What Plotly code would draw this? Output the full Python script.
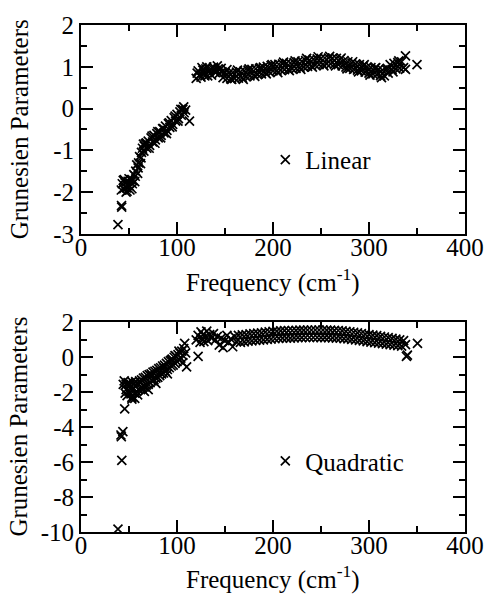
import plotly.graph_objects as go
from plotly.subplots import make_subplots

# ---------------- data ----------------
# Linear fit Grunesien parameters
lin_freq = [
    38.5, 42.4, 42.2,
    42, 43, 44.5, 46, 47.5, 49, 50.5, 52, 53.5, 55, 56.5, 58, 59.5, 61, 62.5, 64, 65.5,
    67, 68.5, 70, 71.5, 73, 74.5, 76, 77.5, 79, 80.5, 82, 83.5, 85, 86.5, 88, 89.5,
    91, 92.5, 94, 95.5, 97, 98.5, 100, 101.5, 103, 104.5, 106, 107.5, 109, 113,
    45, 48, 51, 54, 57, 60, 63, 66,
    44, 47, 50, 53, 56, 59, 62, 65, 68, 71, 74, 77, 80, 83, 86, 89, 92, 95, 98, 101, 104, 107,
    120, 122, 124, 126, 128, 130, 132, 134, 136, 138, 140, 142, 144, 146, 148, 150,
    152, 154, 156, 158, 160, 162, 164, 166, 168, 170, 172, 174, 176, 178, 180, 182,
    184, 186, 188, 190, 192, 194, 196, 198, 200, 202, 204, 206, 208, 210, 212, 214,
    216, 218, 220, 222, 224, 226, 228, 230, 232, 234, 236, 238, 240, 242, 244, 246,
    248, 250, 252, 254, 256, 258, 260, 262, 264, 266, 268, 270, 272, 274, 276, 278,
    280, 282, 284, 286, 288, 290, 292, 294, 296, 298, 300, 302, 304, 306, 308, 310,
    312, 314, 316, 318, 320, 322, 324, 326, 328, 330, 332, 334, 336, 338, 338, 350,
    121, 125, 127, 129, 131, 135, 139, 143, 147, 152,
    157, 163, 169, 175, 181, 187, 193, 199, 205, 211, 217, 223, 229, 235, 241, 247,
    253, 259, 265, 271, 277, 283, 289, 295, 301, 307, 313, 319, 325, 331,
]
lin_gamma = [
    -2.78, -2.36, -2.32,
    -1.95, -1.80, -1.92, -1.78, -1.90, -1.74, -1.86, -1.70, -1.80, -1.58, -1.62, -1.35, -1.42, -1.15, -1.18, -0.95, -1.02,
    -0.84, -0.95, -0.78, -0.88, -0.70, -0.80, -0.64, -0.75, -0.60, -0.70, -0.55, -0.64, -0.48, -0.58, -0.42, -0.52,
    -0.36, -0.45, -0.29, -0.38, -0.22, -0.30, -0.14, -0.24, -0.08, -0.16, -0.02, -0.10, -0.04, -0.30,
    -1.70, -1.98, -1.95, -1.72, -1.50, -1.30, -1.05, -0.90,
    -1.72, -2.00, -1.68, -1.92, -1.75, -1.55, -1.32, -0.85, -0.82, -0.95, -0.66, -0.83, -0.55, -0.70, -0.48, -0.60, -0.34, -0.44, -0.18, -0.30, -0.02, 0.04,
    0.72, 0.90, 0.80, 0.98, 0.84, 0.95, 0.78, 0.90, 0.80, 0.99, 0.86, 1.02, 0.84, 0.96, 0.74, 0.86,
    0.72, 0.85, 0.71, 0.86, 0.72, 0.87, 0.73, 0.88, 0.74, 0.90, 0.76, 0.92, 0.78, 0.94, 0.80, 0.95,
    0.81, 0.96, 0.83, 0.99, 0.86, 1.01, 0.88, 1.03, 0.90, 1.05, 0.91, 1.06, 0.92, 1.07, 0.93, 1.08,
    0.94, 1.09, 0.95, 1.10, 0.96, 1.12, 0.98, 1.13, 0.99, 1.15, 1.01, 1.16, 1.02, 1.18, 1.04, 1.19,
    1.05, 1.20, 1.06, 1.21, 1.07, 1.21, 1.07, 1.21, 1.06, 1.20, 1.05, 1.18, 1.02, 1.15, 0.99, 1.12,
    0.96, 1.09, 0.94, 1.07, 0.92, 1.05, 0.90, 1.02, 0.87, 1.00, 0.85, 0.98, 0.83, 0.96, 0.81, 0.94,
    0.79, 0.92, 0.78, 0.94, 0.85, 1.05, 0.93, 1.08, 0.95, 1.10, 0.97, 1.12, 0.98, 1.26, 0.94, 1.05,
    0.85, 0.75, 0.92, 0.78, 1.00, 0.95, 0.92, 0.95, 0.88, 0.93,
    0.70, 0.92, 0.70, 0.95, 0.77, 0.98, 0.83, 1.05, 0.86, 1.11, 0.91, 1.14, 0.94, 1.20, 0.99, 1.24,
    1.02, 1.25, 1.02, 1.21, 0.95, 1.12, 0.88, 1.05, 0.80, 0.98, 0.74, 0.96, 0.88, 1.14,
]

# Quadratic fit Grunesien parameters
quad_freq = [
    38.5, 42.5, 43.6, 41.6, 42.0, 45.5, 53,
    45, 46, 47, 48, 49, 50, 51, 52, 53, 54, 55, 56, 57, 58, 59, 60, 61, 62, 63, 64,
    65, 66, 67, 68, 69, 70, 71, 72, 73, 74, 75, 76, 77, 78, 79, 80, 81, 82, 83, 84,
    85, 86, 87, 88, 89, 90, 91, 92, 93, 94, 95, 96, 97, 98, 99, 100, 101, 102, 103, 104,
    105, 106, 107, 108, 110, 122, 109,
    44, 47, 50, 53, 56, 59, 62, 66, 70, 74, 78, 82, 86, 90, 94, 98, 102, 106,
    120, 122, 124, 125, 126, 127, 128, 130, 131, 132, 134, 136, 138, 140, 142, 144,
    146, 148, 150, 152, 154, 156, 158, 160, 162,
    164, 166, 168, 170, 172, 174, 176, 178, 180, 182, 184, 186, 188, 190, 192, 194,
    196, 198, 200, 202, 204, 206, 208, 210, 212, 214, 216, 218, 220, 222, 224, 226,
    228, 230, 232, 234, 236, 238, 240, 242, 244, 246, 248, 250, 252, 254, 256, 258,
    260, 262, 264, 266, 268, 270, 272, 274, 276, 278, 280, 282, 284, 286, 288, 290,
    292, 294, 296, 298, 300, 302, 304, 306, 308, 310, 312, 314, 316, 318, 320, 322,
    324, 326, 328, 330, 332, 334, 336, 338, 339, 340, 350.5,
]
quad_gamma = [
    -9.83, -5.90, -4.25, -4.45, -4.55, -2.96, -2.40,
    -1.35, -2.05, -1.55, -2.20, -1.45, -1.95, -1.60, -2.10, -1.40, -1.85, -1.55, -2.05, -1.40, -1.95, -1.50, -1.85, -1.35, -1.80, -1.30, -1.75,
    -1.20, -1.70, -1.15, -1.60, -1.05, -1.55, -1.00, -1.45, -0.95, -1.35, -0.85, -1.30, -0.80, -1.20, -0.75, -1.15, -0.65, -1.05, -0.60, -0.95,
    -0.50, -0.90, -0.45, -0.80, -0.35, -0.70, -0.25, -0.60, -0.20, -0.50, -0.10, -0.45, 0.00, -0.35, 0.05, -0.25, 0.15, -0.15, 0.25, -0.05,
    0.35, 0.10, 0.50, 0.80, -0.55, 0.05, 0.25,
    -1.55, -1.85, -1.50, -2.30, -2.35, -2.15, -1.45, -1.95, -1.85, -1.05, -1.50, -0.85, -0.60, -0.95, -0.15, 0.10, 0.35, -0.30,
    1.00, 1.25, 0.85, 1.45, 1.10, 1.30, 0.90, 1.20, 1.50, 0.95, 1.30, 1.10, 1.35, 1.00, 1.20, 0.70,
    1.10, 0.55, 0.95, 1.25, 0.85, 1.05, 0.60, 1.20, 0.90,
    1.25, 0.85, 1.28, 0.88, 1.30, 0.92, 1.34, 0.94, 1.36, 0.96, 1.38, 0.98, 1.40, 1.00, 1.44, 1.02,
    1.46, 1.04, 1.48, 1.06, 1.50, 1.08, 1.51, 1.09, 1.52, 1.10, 1.52, 1.10, 1.53, 1.11, 1.54, 1.12,
    1.55, 1.12, 1.55, 1.13, 1.56, 1.13, 1.56, 1.13, 1.56, 1.13, 1.56, 1.12, 1.56, 1.12, 1.55, 1.12,
    1.55, 1.11, 1.54, 1.10, 1.53, 1.09, 1.51, 1.07, 1.48, 1.05, 1.46, 1.02, 1.43, 1.00, 1.40, 0.97,
    1.36, 0.94, 1.32, 0.90, 1.30, 0.87, 1.27, 0.84, 1.24, 0.81, 1.20, 0.78, 1.16, 0.75, 1.12, 0.72,
    1.08, 0.69, 1.04, 0.66, 1.00, 0.64, 0.95, 0.72, 0.05, 0.12, 0.80,
]

x_ticks = [0, 100, 200, 300, 400]
x_labels = ["0", "100", "200", "300", "400"]
y_top_ticks = [-3, -2, -1, 0, 1, 2]
y_top_labels = ["-3", "-2", "-1", "0", "1", "2"]
y_bot_ticks = [-10, -8, -6, -4, -2, 0, 2]
y_bot_labels = ["-10", "-8", "-6", "-4", "-2", "0", "2"]

x_title = "Frequency (cm<sup>-1</sup>)"
y_title = "Grunesien Parameters"

# ---------------- figure ----------------
FONT = "Liberation Serif, Times New Roman, serif"
FS = 25

fig = make_subplots(rows=2, cols=1, vertical_spacing=0.0)

marker = dict(symbol="x-thin", size=9, color="black",
              line=dict(width=1.7, color="black"))

fig.add_trace(go.Scatter(x=lin_freq, y=lin_gamma, mode="markers", name="Linear",
                         marker=marker, legend="legend", showlegend=True), row=1, col=1)
fig.add_trace(go.Scatter(x=quad_freq, y=quad_gamma, mode="markers", name="Quadratic",
                         marker=marker, legend="legend2", showlegend=True), row=2, col=1)

top_dom = [0.588, 1.0]
bot_dom = [0.0, 0.4136]

axis_common = dict(
    showline=True, linecolor="black", linewidth=2, mirror="ticks",
    ticks="inside", ticklen=12, tickwidth=1.5, tickcolor="black",
    showgrid=False, zeroline=False,
    tickfont=dict(family=FONT, size=FS, color="black"),
)

fig.update_layout(
    showlegend=True,
    xaxis=dict(domain=[0, 1], range=[0, 400], tickmode="array", tickvals=x_ticks, ticktext=x_labels,
               minor=dict(ticks="inside", ticklen=6, tickwidth=1.5, tickcolor="black",
                          tickmode="linear", tick0=0, dtick=50),
               ticklabelstandoff=-10, anchor="y", **axis_common),
    yaxis=dict(domain=top_dom, range=[-3, 2], tickmode="array", tickvals=y_top_ticks, ticktext=y_top_labels,
               minor=dict(ticks="inside", ticklen=6, tickwidth=1.5, tickcolor="black",
                          tickmode="linear", tick0=0, dtick=0.5),
               anchor="x", **axis_common),
    xaxis2=dict(domain=[0, 1], range=[0, 400], tickmode="array", tickvals=x_ticks, ticktext=x_labels,
                minor=dict(ticks="inside", ticklen=6, tickwidth=1.5, tickcolor="black",
                           tickmode="linear", tick0=0, dtick=50),
                ticklabelstandoff=-10, anchor="y2", **axis_common),
    yaxis2=dict(domain=bot_dom, range=[-10, 2], tickmode="array", tickvals=y_bot_ticks, ticktext=y_bot_labels,
                minor=dict(ticks="inside", ticklen=6, tickwidth=1.5, tickcolor="black",
                           tickmode="linear", tick0=0, dtick=1),
                anchor="x2", **axis_common),
    width=496, height=606,
    margin=dict(l=81, r=19, t=17, b=74),
    plot_bgcolor="white", paper_bgcolor="white",
    font=dict(family=FONT, size=FS, color="black"),
    legend=dict(x=0.48, y=(532 - 154) / 515, xanchor="left", yanchor="middle", xref="paper", yref="paper",
                bgcolor="rgba(0,0,0,0)", font=dict(family=FONT, size=FS, color="black")),
    legend2=dict(x=0.48, y=(532 - 460) / 515, xanchor="left", yanchor="middle", xref="paper", yref="paper",
                 bgcolor="rgba(0,0,0,0)", font=dict(family=FONT, size=FS, color="black")),
)

# axis titles as annotations
fig.add_annotation(text=x_title, xref="paper", yref="paper", x=0.5, y=(532 - 277) / 515,
                   xanchor="center", yanchor="middle", showarrow=False,
                   font=dict(family=FONT, size=FS, color="black"))
fig.add_annotation(text=x_title, xref="paper", yref="paper", x=0.5, y=(532 - 578) / 515,
                   xanchor="center", yanchor="middle", showarrow=False,
                   font=dict(family=FONT, size=FS, color="black"))
fig.add_annotation(text=y_title, xref="paper", yref="paper", x=(17 - 81) / 396, y=(532 - 123) / 515,
                   xanchor="center", yanchor="middle", showarrow=False, textangle=-90,
                   font=dict(family=FONT, size=FS, color="black"))
fig.add_annotation(text=y_title, xref="paper", yref="paper", x=(17 - 81) / 396, y=(532 - 425) / 515,
                   xanchor="center", yanchor="middle", showarrow=False, textangle=-90,
                   font=dict(family=FONT, size=FS, color="black"))

fig.write_html("out.html", config={"displayModeBar": False},
               post_script="document.body.style.margin='0';")
